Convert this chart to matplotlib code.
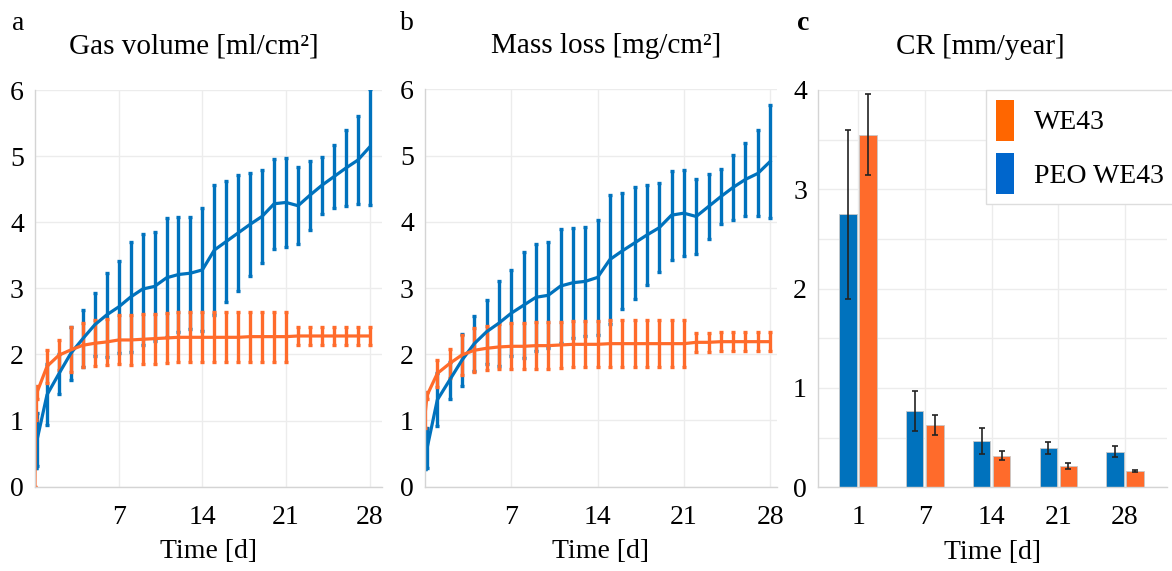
import matplotlib
matplotlib.use('Agg')
import numpy as np
import matplotlib.pyplot as plt
from matplotlib.patches import Patch

# ============================================================
# data
# ============================================================
days = [1, 2, 3, 4, 5, 6, 7, 8, 9, 10, 11, 12, 13, 14,
        15, 16, 17, 18, 19, 20, 21, 22, 23, 24, 25, 26, 27, 28]

# a - gas volume [ml/cm2]
gas_peo_t = [0.04, 0.17] + days
gas_peo = [0.28, 0.71,
           1.39, 1.71, 2.02, 2.24, 2.45, 2.60, 2.72, 2.87, 2.99, 3.03,
           3.16, 3.21, 3.23, 3.28, 3.58, 3.71, 3.84, 3.97, 4.09, 4.28,
           4.30, 4.25, 4.41, 4.56, 4.69, 4.82, 4.94, 5.14]
gas_peo_sd = [0.0, 0.40,
              0.46, 0.30, 0.40, 0.43, 0.48, 0.64, 0.69, 0.83, 0.84, 0.83,
              0.90, 0.87, 0.85, 0.93, 0.98, 0.91, 0.88, 0.78, 0.70, 0.68,
              0.67, 0.58, 0.52, 0.43, 0.48, 0.58, 0.67, 0.88]
gas_we_t = [0.0, 0.04, 0.17] + days
gas_we = [0.0, 1.26, 1.43,
          1.82, 1.99, 2.07, 2.14, 2.17, 2.19, 2.22,
          2.22, 2.23, 2.24, 2.25, 2.26, 2.26, 2.26,
          2.26, 2.26, 2.26, 2.27, 2.27, 2.27, 2.27,
          2.28, 2.28, 2.28, 2.28, 2.28, 2.28, 2.28]
gas_we_sd = [0.0, 0.25, 0.10,
             0.25, 0.23, 0.34, 0.33, 0.35, 0.35, 0.37,
             0.38, 0.38, 0.38, 0.38, 0.38, 0.38, 0.38,
             0.38, 0.38, 0.38, 0.38, 0.38, 0.38, 0.38,
             0.14, 0.14, 0.14, 0.14, 0.14, 0.14, 0.14]

# b - mass loss [mg/cm2]
mass_peo_t = [0.04, 0.17] + days
mass_peo = [0.27, 0.58,
            1.31, 1.61, 1.91, 2.16, 2.34, 2.47, 2.62, 2.74, 2.86, 2.89,
            3.03, 3.08, 3.10, 3.16, 3.43, 3.56, 3.68, 3.80, 3.91, 4.10,
            4.13, 4.08, 4.23, 4.38, 4.52, 4.64, 4.73, 4.91]
mass_peo_sd = [0.0, 0.30,
               0.40, 0.28, 0.39, 0.42, 0.48, 0.64, 0.65, 0.80, 0.81, 0.80,
               0.86, 0.83, 0.82, 0.87, 0.97, 0.88, 0.85, 0.76, 0.67, 0.67,
               0.65, 0.56, 0.49, 0.42, 0.49, 0.55, 0.65, 0.85]
mass_we_t = [0.04, 0.17] + days
mass_we = [1.15, 1.38,
           1.71, 1.86, 1.99, 2.06, 2.09, 2.11, 2.12,
           2.12, 2.13, 2.13, 2.14, 2.15, 2.15, 2.15,
           2.16, 2.16, 2.16, 2.16, 2.16, 2.16, 2.16,
           2.18, 2.18, 2.19, 2.19, 2.19, 2.19, 2.19]
mass_we_sd = [0.27, 0.05,
              0.20, 0.22, 0.30, 0.33, 0.33, 0.34, 0.35,
              0.35, 0.35, 0.35, 0.35, 0.35, 0.35, 0.35,
              0.35, 0.35, 0.35, 0.35, 0.35, 0.35, 0.35,
              0.14, 0.14, 0.14, 0.14, 0.14, 0.14, 0.14]

# c - corrosion rate [mm/year]
cr_days = ['1', '7', '14', '21', '28']
cr_peo = [2.75, 0.77, 0.47, 0.40, 0.36]
cr_peo_sd = [0.85, 0.20, 0.13, 0.06, 0.06]
cr_we = [3.55, 0.63, 0.32, 0.21, 0.16]
cr_we_sd = [0.41, 0.10, 0.05, 0.03, 0.01]

# ============================================================
# style
# ============================================================
BLUE = '#0072BD'
ORANGE = '#FF6B2B'
GRID = '#ececec'
SPINE = '#d4d4d4'
FS = 20
FS_TITLE = 21

plt.rcParams['font.family'] = ['Liberation Serif', 'DejaVu Serif']


def style_axes(ax):
    for s in ('top', 'right'):
        ax.spines[s].set_visible(False)
    for s in ('left', 'bottom'):
        ax.spines[s].set_color(SPINE)
        ax.spines[s].set_linewidth(1.0)
    ax.tick_params(length=0, labelsize=FS)
    ax.tick_params(axis='y', pad=8)
    ax.tick_params(axis='x', pad=13)
    ax.grid(True, color=GRID, linewidth=1.0)
    ax.set_axisbelow(True)


def line_panel(ax, peo, we, title, xmax, title_x):
    """Time series with error bars (PEO WE43 blue, WE43 orange)."""
    style_axes(ax)
    kw = dict(linewidth=2.3, elinewidth=2.4, capsize=1.2, capthick=2.4)
    ax.errorbar(peo[0], peo[1], yerr=peo[2], color=BLUE, **kw)
    ax.errorbar(we[0], we[1], yerr=we[2], color=ORANGE, **kw)
    ax.set_xlim(0, xmax)
    ax.set_ylim(0, 6)
    ax.set_xticks([7, 14, 21, 28])
    ax.set_yticks([0, 1, 2, 3, 4, 5, 6])
    ax.set_xlabel('Time [d]', fontsize=FS, labelpad=7)
    ax.set_title(title, fontsize=FS_TITLE, pad=26, x=title_x)


# ============================================================
# figure
# ============================================================
fig = plt.figure(figsize=(11.72, 5.71), dpi=100)

ax_a = fig.add_axes([0.0299, 0.1476, 0.2958, 0.6947])
ax_b = fig.add_axes([0.3626, 0.1476, 0.3003, 0.6960])
ax_c = fig.add_axes([0.6980, 0.1466, 0.2978, 0.6958])

line_panel(ax_a, (gas_peo_t, gas_peo, gas_peo_sd),
           (gas_we_t, gas_we, gas_we_sd), 'Gas volume [ml/cm²]', 29.0, 0.459)
line_panel(ax_b, (mass_peo_t, mass_peo, mass_peo_sd),
           (mass_we_t, mass_we, mass_we_sd), 'Mass loss [mg/cm²]', 28.55, 0.514)

# bar panel
style_axes(ax_c)
pos = np.arange(1, len(cr_days) + 1)
w = 0.26
ekw = dict(ecolor='#222222', elinewidth=1.2, capsize=2.2, capthick=1.2)
ax_c.bar(pos - 0.15, cr_peo, w, yerr=cr_peo_sd, color=BLUE,
         edgecolor='#c8c8c8', linewidth=0.6, error_kw=ekw)
ax_c.bar(pos + 0.15, cr_we, w, yerr=cr_we_sd, color=ORANGE,
         edgecolor='#c8c8c8', linewidth=0.6, error_kw=ekw)
ax_c.set_xlim(0.4, 5.63)
ax_c.set_ylim(0, 4)
ax_c.set_xticks(pos)
ax_c.set_xticklabels(cr_days)
ax_c.set_yticks([0, 1, 2, 3, 4])
ax_c.set_yticks([0.5, 1.5, 2.5, 3.5], minor=True)
ax_c.tick_params(which='minor', length=0)
ax_c.grid(True, which='minor', axis='y', color=GRID, linewidth=1.0)
ax_c.set_xlabel('Time [d]', fontsize=FS, labelpad=7)
ax_c.set_title('CR [mm/year]', fontsize=FS_TITLE, pad=26, x=0.464)

handles = [Patch(facecolor='#FF6600', edgecolor='none', label='WE43'),
           Patch(facecolor='#0066CC', edgecolor='none', label='PEO WE43')]
leg = ax_c.legend(handles=handles, loc='upper right', fontsize=FS,
                  handlelength=0.65, handleheight=1.9, handletextpad=0.75,
                  labelspacing=0.45, borderpad=0.35, borderaxespad=0.0,
                  fancybox=False, framealpha=1.0, edgecolor='#dddddd',
                  bbox_to_anchor=(1.02, 1.0))

# panel letters
fig.text(0.010, 0.948, 'a', fontsize=FS)
fig.text(0.341, 0.948, 'b', fontsize=FS)
fig.text(0.680, 0.948, 'c', fontsize=FS, fontweight='bold')

fig.savefig('out.png', dpi=100)
plt.close(fig)
